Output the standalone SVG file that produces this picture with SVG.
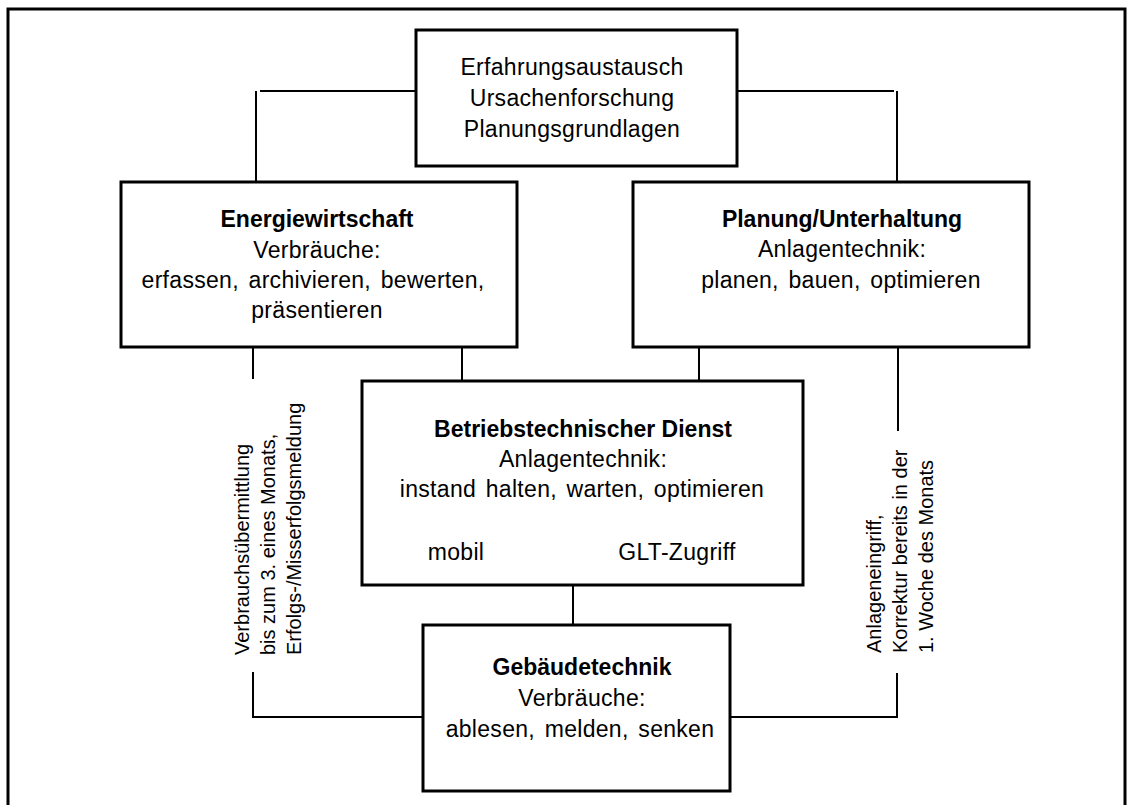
<svg xmlns="http://www.w3.org/2000/svg" width="1134" height="805" viewBox="0 0 1134 805">
  <style>
    .box { fill: #ffffff; stroke: #000000; stroke-width: 3; }
    .wire { fill: none; stroke: #000000; stroke-width: 2; }
    .frame { fill: none; stroke: #000000; stroke-width: 3; }
    text { font-family: "Liberation Sans", Arial, sans-serif; fill: #000000; }
    .t { font-size: 23px; text-anchor: middle; letter-spacing: 0.3px; word-spacing: 3px; }
    .b { font-weight: bold; letter-spacing: 0; word-spacing: 0; }
    .side { font-size: 20px; }
  </style>

  <rect width="1134" height="805" fill="#ffffff"/>
  <rect class="frame" x="8" y="9" width="1117" height="830"/>

  <g id="connectors">
    <line class="wire" x1="260" y1="91" x2="416" y2="91"/>
    <line class="wire" x1="256" y1="91" x2="256" y2="182"/>
    <line class="wire" x1="737" y1="91" x2="894" y2="91"/>
    <line class="wire" x1="897" y1="91" x2="897" y2="182"/>
    <line class="wire" x1="253" y1="347" x2="253" y2="379"/>
    <line class="wire" x1="462" y1="347" x2="462" y2="381"/>
    <line class="wire" x1="699" y1="347" x2="699" y2="381"/>
    <line class="wire" x1="898" y1="347" x2="898" y2="431"/>
    <line class="wire" x1="573" y1="585" x2="573" y2="625"/>
    <polyline class="wire" points="253,672 253,717 423,717"/>
    <polyline class="wire" points="730,717 897,717 897,673"/>
  </g>

  <g id="erfahrung">
    <rect class="box" x="416" y="30" width="321" height="136"/>
    <text class="t" x="572" y="75">Erfahrungsaustausch</text>
    <text class="t" x="572" y="106">Ursachenforschung</text>
    <text class="t" x="572" y="137">Planungsgrundlagen</text>
  </g>

  <g id="energiewirtschaft">
    <rect class="box" x="121" y="182" width="396" height="165"/>
    <text class="t b" x="317" y="227">Energiewirtschaft</text>
    <text class="t" x="317" y="258">Verbräuche:</text>
    <text class="t" x="313" y="288">erfassen, archivieren, bewerten,</text>
    <text class="t" x="317" y="318">präsentieren</text>
  </g>

  <g id="planung">
    <rect class="box" x="633" y="182" width="396" height="165"/>
    <text class="t b" x="842" y="227">Planung/Unterhaltung</text>
    <text class="t" x="842" y="257">Anlagentechnik:</text>
    <text class="t" x="841" y="288">planen, bauen, optimieren</text>
  </g>

  <g id="btd">
    <rect class="box" x="362" y="381" width="441" height="204"/>
    <text class="t b" x="583" y="437">Betriebstechnischer Dienst</text>
    <text class="t" x="583" y="467">Anlagentechnik:</text>
    <text class="t" x="582" y="497">instand halten, warten, optimieren</text>
    <text class="t" x="456" y="560">mobil</text>
    <text class="t" x="677" y="560">GLT-Zugriff</text>
  </g>

  <g id="gebaeudetechnik">
    <rect class="box" x="423" y="625" width="307" height="166"/>
    <text class="t b" x="582" y="675">Gebäudetechnik</text>
    <text class="t" x="582" y="706">Verbräuche:</text>
    <text class="t" x="580" y="737">ablesen, melden, senken</text>
  </g>

  <g id="label-left">
    <text class="side" transform="translate(249,655) rotate(-90)">Verbrauchsübermittlung</text>
    <text class="side" transform="translate(275,655) rotate(-90)">bis zum 3. eines Monats,</text>
    <text class="side" transform="translate(301,655) rotate(-90)">Erfolgs-/Misserfolgsmeldung</text>
  </g>

  <g id="label-right">
    <text class="side" transform="translate(881,653) rotate(-90)">Anlageneingriff,</text>
    <text class="side" transform="translate(907,653) rotate(-90)">Korrektur bereits in der</text>
    <text class="side" transform="translate(933,653) rotate(-90)">1. Woche des Monats</text>
  </g>
</svg>
